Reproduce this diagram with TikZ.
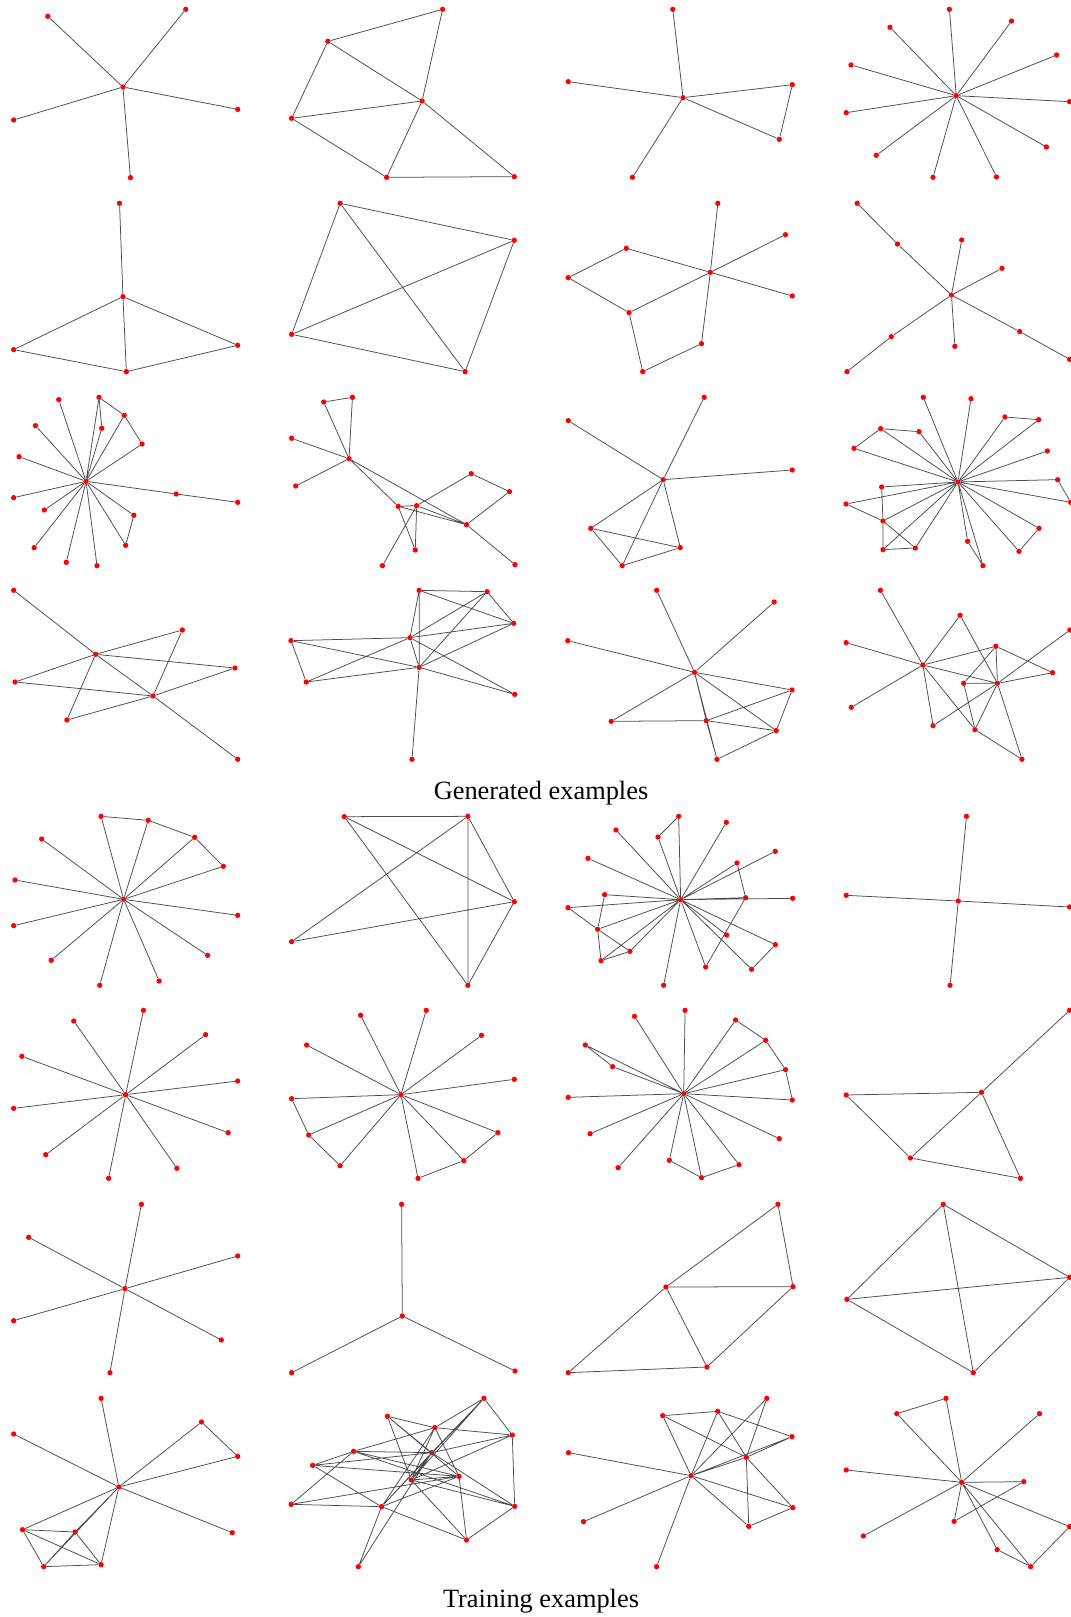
\documentclass[tikz,border=0pt]{standalone}
\usepackage{fontspec}
\setmainfont{Liberation Serif}
\usepackage{tikz}

\begin{document}
\begin{tikzpicture}[x=0.03cm,y=-0.03cm,
   vx/.style={circle,fill=red,draw=none,minimum size=1.6mm,inner sep=0pt},
   ed/.style={black!70,line width=0.65pt},
   captxt/.style={font=\fontsize{22.5}{27}\selectfont},
   rowz/.style={shift={(0,#1)},xscale=0.683,yscale=0.3333}]
\useasboundingbox (0,0) rectangle (1071,1617);

%% ---- row 1 ----
\begin{scope}[rowz=0]
  \node[vx] (c) at (180,261) {};
  \node[vx] (a) at (70,49) {};
  \node[vx] (b) at (272,28) {};
  \node[vx] (d) at (20,360) {};
  \node[vx] (e) at (348,328) {};
  \node[vx] (f) at (191,533) {};
  \draw[ed] (c)--(a) (c)--(b) (c)--(d) (c)--(e) (c)--(f);

  \node[vx] (a) at (648,28) {};
  \node[vx] (b) at (480,124) {};
  \node[vx] (c) at (618,303) {};
  \node[vx] (d) at (427,355) {};
  \node[vx] (e) at (566,532) {};
  \node[vx] (f) at (753,530) {};
  \draw[ed] (a)--(b) (b)--(d) (b)--(c) (a)--(c) (d)--(c) (d)--(e) (c)--(e) (c)--(f) (e)--(f);

  \node[vx] (c) at (1000,293) {};
  \node[vx] (a) at (985,28) {};
  \node[vx] (b) at (832,245) {};
  \node[vx] (d) at (1160,254) {};
  \node[vx] (e) at (1141,418) {};
  \node[vx] (f) at (926,532) {};
  \draw[ed] (c)--(a) (c)--(b) (c)--(d) (c)--(e) (d)--(e) (c)--(f);

  \node[vx] (c) at (1400,287) {};
  \node[vx] (n1) at (1390,28) {};
  \node[vx] (n2) at (1303,82) {};
  \node[vx] (n3) at (1481,63) {};
  \node[vx] (n4) at (1547,165) {};
  \node[vx] (n5) at (1246,195) {};
  \node[vx] (n6) at (1566,305) {};
  \node[vx] (n7) at (1239,338) {};
  \node[vx] (n8) at (1532,441) {};
  \node[vx] (n9) at (1283,466) {};
  \node[vx] (n10) at (1366,532) {};
  \node[vx] (n11) at (1459,531) {};
  \draw[ed] (c)--(n1) (c)--(n2) (c)--(n3) (c)--(n4) (c)--(n5) (c)--(n6)
            (c)--(n7) (c)--(n8) (c)--(n9) (c)--(n10) (c)--(n11);
\end{scope}

%% ---- row 2 ----
\begin{scope}[rowz=190]
  \node[vx] (a) at (175,40) {};
  \node[vx] (c) at (180,320) {};
  \node[vx] (d) at (20,479) {};
  \node[vx] (e) at (348,466) {};
  \node[vx] (f) at (185,545) {};
  \draw[ed] (a)--(c) (c)--(d) (c)--(e) (c)--(f) (d)--(f) (e)--(f);

  \node[vx] (a) at (498,40) {};
  \node[vx] (b) at (753,151) {};
  \node[vx] (c) at (427,433) {};
  \node[vx] (d) at (681,545) {};
  \draw[ed] (a)--(b) (a)--(c) (a)--(d) (b)--(c) (b)--(d) (c)--(d);

  \node[vx] (h) at (1040,247) {};
  \node[vx] (t) at (1051,40) {};
  \node[vx] (r1) at (1150,134) {};
  \node[vx] (l1) at (917,175) {};
  \node[vx] (l2) at (832,263) {};
  \node[vx] (r2) at (1160,318) {};
  \node[vx] (m) at (921,368) {};
  \node[vx] (b1) at (1027,461) {};
  \node[vx] (b2) at (941,545) {};
  \draw[ed] (h)--(t) (h)--(r1) (h)--(l1) (h)--(r2) (h)--(m) (h)--(b1)
            (l1)--(l2) (l2)--(m) (m)--(b2) (b2)--(b1);

  \node[vx] (c) at (1393,315) {};
  \node[vx] (a) at (1255,40) {};
  \node[vx] (b) at (1314,162) {};
  \node[vx] (d) at (1408,150) {};
  \node[vx] (e) at (1467,235) {};
  \node[vx] (f) at (1305,440) {};
  \node[vx] (g) at (1398,469) {};
  \node[vx] (k) at (1493,425) {};
  \node[vx] (l) at (1240,545) {};
  \node[vx] (m) at (1566,508) {};
  \draw[ed] (a)--(b) (b)--(c) (d)--(c) (e)--(c) (c)--(f) (f)--(l) (c)--(g) (c)--(k) (k)--(m);
\end{scope}

%% ---- row 3 ----
\begin{scope}[rowz=385]
  \node[vx] (c) at (126,289) {};
  \node[vx] (n1) at (86,44) {};
  \node[vx] (n2) at (145,37) {};
  \node[vx] (n3) at (182,91) {};
  \node[vx] (n4) at (149,130) {};
  \node[vx] (n5) at (52,122) {};
  \node[vx] (n6) at (208,177) {};
  \node[vx] (n7) at (28,215) {};
  \node[vx] (n8) at (258,327) {};
  \node[vx] (n9) at (348,352) {};
  \node[vx] (n10) at (20,338) {};
  \node[vx] (n11) at (65,375) {};
  \node[vx] (n12) at (196,391) {};
  \node[vx] (n13) at (184,481) {};
  \node[vx] (n14) at (50,488) {};
  \node[vx] (n15) at (97,532) {};
  \node[vx] (n16) at (142,542) {};
  \draw[ed] (c)--(n1) (c)--(n2) (c)--(n3) (c)--(n4) (c)--(n5) (c)--(n6) (c)--(n7)
            (c)--(n8) (c)--(n10) (c)--(n11) (c)--(n12) (c)--(n13) (c)--(n14)
            (c)--(n15) (c)--(n16)
            (n2)--(n3) (n2)--(n4) (n3)--(n6) (n8)--(n9) (n12)--(n13);

  \node[vx] (h) at (511,221) {};
  \node[vx] (n1) at (474,51) {};
  \node[vx] (n2) at (516,37) {};
  \node[vx] (n3) at (427,160) {};
  \node[vx] (n4) at (433,303) {};
  \node[vx] (n5) at (583,364) {};
  \node[vx] (n6) at (610,362) {};
  \node[vx] (n7) at (690,266) {};
  \node[vx] (n8) at (746,320) {};
  \node[vx] (n9) at (683,419) {};
  \node[vx] (n10) at (608,495) {};
  \node[vx] (n11) at (560,542) {};
  \node[vx] (n12) at (754,539) {};
  \draw[ed] (n1)--(n2) (n1)--(h) (n2)--(h) (n3)--(h) (h)--(n4) (h)--(n5) (h)--(n9)
            (n5)--(n6) (n5)--(n9) (n5)--(n10) (n6)--(n10) (n6)--(n11) (n6)--(n7)
            (n7)--(n8) (n8)--(n9) (n6)--(n9) (n9)--(n12);

  \node[vx] (h) at (971,284) {};
  \node[vx] (a) at (1031,37) {};
  \node[vx] (b) at (832,107) {};
  \node[vx] (d) at (1160,255) {};
  \node[vx] (e) at (865,430) {};
  \node[vx] (f) at (996,488) {};
  \node[vx] (g) at (911,542) {};
  \draw[ed] (h)--(a) (h)--(b) (h)--(d) (h)--(e) (h)--(f) (h)--(g) (e)--(f) (e)--(g) (g)--(f);
\end{scope}
\begin{scope}[shift={(810,385)},scale=0.3333]
  \node[vx] (h) at (444,291) {};
  \node[vx] (n1) at (340,37) {};
  \node[vx] (n2) at (483,41) {};
  \node[vx] (n3) at (585,96) {};
  \node[vx] (n4) at (686,104) {};
  \node[vx] (n5) at (212,131) {};
  \node[vx] (n6) at (327,140) {};
  \node[vx] (n7) at (132,190) {};
  \node[vx] (n8) at (712,198) {};
  \node[vx] (n9) at (215,306) {};
  \node[vx] (n10) at (743,284) {};
  \node[vx] (n11) at (108,357) {};
  \node[vx] (n12) at (782,352) {};
  \node[vx] (n13) at (219,408) {};
  \node[vx] (n14) at (687,430) {};
  \node[vx] (n15) at (473,469) {};
  \node[vx] (n16) at (627,499) {};
  \node[vx] (n17) at (219,494) {};
  \node[vx] (n18) at (316,489) {};
  \node[vx] (n19) at (519,542) {};
  \draw[ed] (h)--(n1) (h)--(n2) (h)--(n3) (n3)--(n4) (h)--(n4) (n5)--(n6) (n5)--(n7)
            (h)--(n5) (h)--(n6) (h)--(n7) (h)--(n8) (h)--(n9) (h)--(n10) (n10)--(n12)
            (h)--(n12) (h)--(n11) (n11)--(n13) (n9)--(n13) (n13)--(n17) (h)--(n13)
            (n13)--(n18) (h)--(n17) (n17)--(n18) (h)--(n18) (h)--(n15) (n15)--(n19)
            (h)--(n19) (h)--(n16) (n16)--(n14) (h)--(n14);
\end{scope}

%% ---- row 4 ----
\begin{scope}[rowz=575]
  \node[vx] (a) at (140,238) {};
  \node[vx] (b) at (224,363) {};
  \node[vx] (n1) at (20,46) {};
  \node[vx] (n2) at (267,165) {};
  \node[vx] (n3) at (344,279) {};
  \node[vx] (n4) at (22,321) {};
  \node[vx] (n5) at (98,435) {};
  \node[vx] (n6) at (348,553) {};
  \draw[ed] (n1)--(a) (a)--(b) (b)--(n6) (a)--(n2) (a)--(n3) (a)--(n4) (a)--(n5)
            (b)--(n2) (b)--(n3) (b)--(n4) (b)--(n5);
\end{scope}
\begin{scope}[shift={(270,575)},xscale=0.5108,yscale=0.3333]
  \node[vx] (h1) at (274,188) {};
  \node[vx] (h2) at (292,277) {};
  \node[vx] (p1) at (292,46) {};
  \node[vx] (p2) at (425,50) {};
  \node[vx] (p3) at (477,145) {};
  \node[vx] (p4) at (41,197) {};
  \node[vx] (p5) at (71,321) {};
  \node[vx] (p6) at (479,358) {};
  \node[vx] (p7) at (278,553) {};
  \draw[ed] (p1)--(p2) (p1)--(p3) (p2)--(p3) (p1)--(h1) (p1)--(h2) (p2)--(h1) (p2)--(h2)
            (p3)--(h1) (p3)--(h2) (p4)--(h1) (p4)--(h2) (p4)--(p5) (p5)--(h1) (p5)--(h2)
            (h1)--(p6) (h2)--(p6) (h2)--(p7) (h1)--(h2);

  \node[vx] (h) at (831,292) {};
  \node[vx] (k) at (854,437) {};
  \node[vx] (q1) at (757,46) {};
  \node[vx] (q2) at (987,81) {};
  \node[vx] (q3) at (583,197) {};
  \node[vx] (q4) at (1022,345) {};
  \node[vx] (q5) at (668,439) {};
  \node[vx] (q6) at (991,467) {};
  \node[vx] (q7) at (875,553) {};
  \draw[ed] (h)--(q1) (h)--(q2) (h)--(q3) (h)--(q4) (h)--(q5) (q5)--(k) (h)--(k) (h)--(q7)
            (k)--(q7) (k)--(q4) (k)--(q6) (q4)--(q6) (q6)--(q7) (h)--(q6);

  \node[vx] (a) at (1278,270) {};
  \node[vx] (b) at (1424,325) {};
  \node[vx] (r1) at (1195,46) {};
  \node[vx] (r2) at (1351,121) {};
  \node[vx] (r3) at (1128,203) {};
  \node[vx] (r4) at (1421,214) {};
  \node[vx] (r5) at (1566,165) {};
  \node[vx] (r6) at (1532,293) {};
  \node[vx] (r7) at (1358,325) {};
  \node[vx] (r8) at (1138,397) {};
  \node[vx] (r9) at (1298,452) {};
  \node[vx] (r10) at (1380,464) {};
  \node[vx] (r11) at (1472,553) {};
  \draw[ed] (r1)--(a) (r3)--(a) (a)--(r8) (a)--(r2) (r2)--(b) (a)--(r4) (a)--(b) (a)--(r9)
            (a)--(r10) (r4)--(r7) (r4)--(b) (r4)--(r6) (r7)--(b) (b)--(r6) (b)--(r5)
            (b)--(r9) (b)--(r10) (b)--(r11) (r7)--(r10) (r10)--(r11);
\end{scope}

%% ---- caption ----
\node[captxt] (gen) at (541,793) {Generated examples};

%% ---- row 5 ----
\begin{scope}[rowz=800]
  \node[vx] (h) at (181,298) {};
  \node[vx] (n1) at (148,49) {};
  \node[vx] (n2) at (217,61) {};
  \node[vx] (n3) at (285,112) {};
  \node[vx] (n4) at (327,199) {};
  \node[vx] (n5) at (61,117) {};
  \node[vx] (n6) at (22,240) {};
  \node[vx] (n7) at (348,346) {};
  \node[vx] (n8) at (20,377) {};
  \node[vx] (n9) at (75,481) {};
  \node[vx] (n10) at (304,466) {};
  \node[vx] (n11) at (146,556) {};
  \node[vx] (n12) at (233,543) {};
  \draw[ed] (h)--(n1) (h)--(n2) (h)--(n3) (h)--(n4) (h)--(n5) (h)--(n6) (h)--(n7)
            (h)--(n8) (h)--(n9) (h)--(n10) (h)--(n11) (h)--(n12)
            (n1)--(n2) (n2)--(n3) (n3)--(n4);

  \node[vx] (a) at (504,50) {};
  \node[vx] (b) at (685,49) {};
  \node[vx] (c) at (753,305) {};
  \node[vx] (d) at (427,425) {};
  \node[vx] (e) at (685,556) {};
  \draw[ed] (a)--(b) (a)--(c) (a)--(e) (b)--(d) (b)--(e) (b)--(c) (d)--(c) (c)--(e);

  \node[vx] (h) at (1403,303) {};
  \node[vx] (a) at (1415,49) {};
  \node[vx] (b) at (1239,286) {};
  \node[vx] (d) at (1566,321) {};
  \node[vx] (e) at (1391,556) {};
  \draw[ed] (h)--(a) (h)--(b) (h)--(d) (h)--(e);
\end{scope}
\begin{scope}[shift={(540,800)},scale=0.3333]
  \node[vx] (h) at (422,299) {};
  \node[vx] (s1) at (416,49) {};
  \node[vx] (s2) at (354,111) {};
  \node[vx] (s3) at (559,67) {};
  \node[vx] (s4) at (228,90) {};
  \node[vx] (s5) at (144,175) {};
  \node[vx] (s6) at (706,154) {};
  \node[vx] (s7) at (591,189) {};
  \node[vx] (s8) at (617,293) {};
  \node[vx] (s9) at (758,295) {};
  \node[vx] (s10) at (194,284) {};
  \node[vx] (s11) at (84,323) {};
  \node[vx] (s12) at (173,388) {};
  \node[vx] (s13) at (270,454) {};
  \node[vx] (s14) at (183,482) {};
  \node[vx] (s15) at (560,405) {};
  \node[vx] (s16) at (706,434) {};
  \node[vx] (s17) at (497,501) {};
  \node[vx] (s18) at (635,508) {};
  \node[vx] (s19) at (371,556) {};
  \draw[ed] (h)--(s1) (s1)--(s2) (h)--(s2) (h)--(s3) (h)--(s4) (h)--(s5) (h)--(s6)
            (h)--(s7) (s7)--(s8) (h)--(s8) (h)--(s9) (h)--(s10) (s10)--(s12) (h)--(s11)
            (s11)--(s12) (h)--(s12) (s12)--(s13) (s12)--(s14) (h)--(s14) (s14)--(s13)
            (h)--(s13) (h)--(s15) (s8)--(s17) (h)--(s17) (h)--(s18) (s16)--(s18)
            (h)--(s16) (h)--(s19);
\end{scope}

%% ---- row 6 ----
\begin{scope}[rowz=995]
  \node[vx] (h) at (184,299) {};
  \node[vx] (n1) at (210,46) {};
  \node[vx] (n2) at (108,78) {};
  \node[vx] (n3) at (301,119) {};
  \node[vx] (n4) at (32,184) {};
  \node[vx] (n5) at (348,258) {};
  \node[vx] (n6) at (20,340) {};
  \node[vx] (n7) at (334,413) {};
  \node[vx] (n8) at (67,479) {};
  \node[vx] (n9) at (259,520) {};
  \node[vx] (n10) at (159,550) {};
  \draw[ed] (h)--(n1) (h)--(n2) (h)--(n3) (h)--(n4) (h)--(n5) (h)--(n6) (h)--(n7)
            (h)--(n8) (h)--(n9) (h)--(n10);

  \node[vx] (h) at (587,299) {};
  \node[vx] (n1) at (528,61) {};
  \node[vx] (n2) at (624,46) {};
  \node[vx] (n3) at (705,121) {};
  \node[vx] (n4) at (449,150) {};
  \node[vx] (n5) at (753,253) {};
  \node[vx] (n6) at (427,311) {};
  \node[vx] (n7) at (452,420) {};
  \node[vx] (n8) at (729,413) {};
  \node[vx] (n9) at (498,512) {};
  \node[vx] (n10) at (679,497) {};
  \node[vx] (n11) at (612,550) {};
  \draw[ed] (h)--(n1) (h)--(n2) (h)--(n3) (h)--(n4) (h)--(n5) (h)--(n6) (h)--(n7)
            (h)--(n8) (h)--(n9) (h)--(n10) (h)--(n11)
            (n6)--(n7) (n7)--(n9) (n8)--(n10) (n10)--(n11);

  \node[vx] (h) at (1001,296) {};
  \node[vx] (n1) at (929,64) {};
  \node[vx] (n2) at (1003,46) {};
  \node[vx] (n3) at (1077,75) {};
  \node[vx] (n4) at (1121,136) {};
  \node[vx] (n5) at (857,150) {};
  \node[vx] (n6) at (897,215) {};
  \node[vx] (n7) at (1150,224) {};
  \node[vx] (n8) at (832,307) {};
  \node[vx] (n9) at (1160,315) {};
  \node[vx] (n10) at (864,416) {};
  \node[vx] (n11) at (1141,431) {};
  \node[vx] (n12) at (905,518) {};
  \node[vx] (n13) at (980,496) {};
  \node[vx] (n14) at (1082,509) {};
  \node[vx] (n15) at (1027,548) {};
  \draw[ed] (h)--(n1) (h)--(n2) (h)--(n3) (h)--(n4) (h)--(n5) (h)--(n6) (h)--(n7)
            (h)--(n8) (h)--(n9) (h)--(n10) (h)--(n11) (h)--(n12) (h)--(n13)
            (h)--(n14) (h)--(n15)
            (n5)--(n6) (n3)--(n4) (n4)--(n7) (n7)--(n9) (n13)--(n15) (n14)--(n15);

  \node[vx] (h) at (1437,292) {};
  \node[vx] (a) at (1566,46) {};
  \node[vx] (b) at (1239,300) {};
  \node[vx] (c) at (1333,489) {};
  \node[vx] (d) at (1494,550) {};
  \draw[ed] (a)--(h) (b)--(h) (b)--(c) (h)--(c) (h)--(d) (c)--(d);
\end{scope}

%% ---- row 7 ----
\begin{scope}[rowz=1190]
  \node[vx] (h) at (183,296) {};
  \node[vx] (n1) at (207,43) {};
  \node[vx] (n2) at (42,142) {};
  \node[vx] (n3) at (348,198) {};
  \node[vx] (n4) at (20,392) {};
  \node[vx] (n5) at (324,450) {};
  \node[vx] (n6) at (161,548) {};
  \draw[ed] (h)--(n1) (h)--(n2) (h)--(n3) (h)--(n4) (h)--(n5) (h)--(n6);

  \node[vx] (h) at (589,378) {};
  \node[vx] (a) at (588,43) {};
  \node[vx] (b) at (427,548) {};
  \node[vx] (c) at (754,543) {};
  \draw[ed] (h)--(a) (h)--(b) (h)--(c);

  \node[vx] (t) at (1139,43) {};
  \node[vx] (a) at (975,291) {};
  \node[vx] (b) at (1161,290) {};
  \node[vx] (d) at (832,548) {};
  \node[vx] (c) at (1035,531) {};
  \draw[ed] (t)--(a) (t)--(b) (a)--(b) (a)--(d) (a)--(c) (b)--(c) (d)--(c);

  \node[vx] (a) at (1381,43) {};
  \node[vx] (b) at (1240,328) {};
  \node[vx] (c) at (1566,262) {};
  \node[vx] (d) at (1425,548) {};
  \draw[ed] (a)--(b) (a)--(c) (a)--(d) (b)--(c) (b)--(d) (c)--(d);
\end{scope}

%% ---- row 8 ----
\begin{scope}[rowz=1385]
  \node[vx] (h) at (174,306) {};
  \node[vx] (n1) at (148,40) {};
  \node[vx] (n2) at (20,147) {};
  \node[vx] (n3) at (295,111) {};
  \node[vx] (n4) at (348,214) {};
  \node[vx] (n5) at (340,443) {};
  \node[vx] (n6) at (33,434) {};
  \node[vx] (n7) at (110,441) {};
  \node[vx] (n8) at (64,545) {};
  \node[vx] (n9) at (148,539) {};
  \draw[ed] (h)--(n1) (h)--(n2) (h)--(n3) (h)--(n4) (n3)--(n4) (h)--(n5) (h)--(n6)
            (h)--(n7) (h)--(n8) (n7)--(n8) (h)--(n9) (n6)--(n7) (n6)--(n8) (n6)--(n9)
            (n7)--(n9) (n8)--(n9);

  \node[vx] (h) at (1408,292) {};
  \node[vx] (n1) at (1385,40) {};
  \node[vx] (n2) at (1313,86) {};
  \node[vx] (n3) at (1522,86) {};
  \node[vx] (n4) at (1239,255) {};
  \node[vx] (n5) at (1499,290) {};
  \node[vx] (n6) at (1397,409) {};
  \node[vx] (n7) at (1264,453) {};
  \node[vx] (n8) at (1566,425) {};
  \node[vx] (n9) at (1460,494) {};
  \node[vx] (n10) at (1509,545) {};
  \draw[ed] (n1)--(n2) (n1)--(h) (n2)--(h) (h)--(n3) (h)--(n4) (h)--(n5) (n5)--(n6)
            (h)--(n6) (h)--(n7) (h)--(n8) (h)--(n9) (h)--(n10) (n9)--(n10) (n8)--(n10);
\end{scope}
\begin{scope}[shift={(270,1385)},xscale=0.3412,yscale=0.3333]
  \node[vx] (A) at (627,40) {};
  \node[vx] (B) at (344,94) {};
  \node[vx] (C) at (483,128) {};
  \node[vx] (D) at (710,150) {};
  \node[vx] (E) at (245,199) {};
  \node[vx] (F) at (474,203) {};
  \node[vx] (G) at (125,241) {};
  \node[vx] (H) at (554,274) {};
  \node[vx] (I) at (414,285) {};
  \node[vx] (J) at (62,358) {};
  \node[vx] (K) at (327,365) {};
  \node[vx] (L) at (717,364) {};
  \node[vx] (M) at (576,465) {};
  \node[vx] (N) at (259,545) {};
  \draw[ed] (A)--(D) (A)--(C) (A)--(F) (A)--(I) (A)--(K)
            (B)--(C) (B)--(F) (B)--(H) (B)--(I)
            (C)--(D) (C)--(E) (C)--(I) (C)--(K) (C)--(H)
            (D)--(F) (D)--(I) (D)--(L)
            (E)--(F) (E)--(G) (E)--(H) (E)--(J) (E)--(L)
            (F)--(G) (F)--(L) (F)--(I) (F)--(K) (F)--(N)
            (G)--(H) (G)--(K)
            (H)--(I) (H)--(J) (H)--(K) (H)--(M)
            (I)--(L) (I)--(M) (J)--(K) (K)--(M) (K)--(N) (L)--(M);

  \node[vx] (h) at (1234,272) {};
  \node[vx] (a) at (1456,40) {};
  \node[vx] (b) at (1151,92) {};
  \node[vx] (c) at (1312,79) {};
  \node[vx] (d) at (1530,155) {};
  \node[vx] (e) at (875,203) {};
  \node[vx] (f) at (1396,217) {};
  \node[vx] (g) at (1532,368) {};
  \node[vx] (k) at (919,410) {};
  \node[vx] (i) at (1403,424) {};
  \node[vx] (j) at (1133,545) {};
  \draw[ed] (b)--(c) (b)--(h) (b)--(f) (c)--(h) (c)--(f) (c)--(d) (a)--(h) (a)--(f)
            (d)--(h) (d)--(f) (h)--(f) (e)--(h) (k)--(h) (j)--(h) (h)--(g) (h)--(i)
            (f)--(i) (f)--(g) (i)--(g);
\end{scope}

%% ---- caption ----
\node[captxt] (trn) at (541,1601) {Training examples};
\end{tikzpicture}
\end{document}
